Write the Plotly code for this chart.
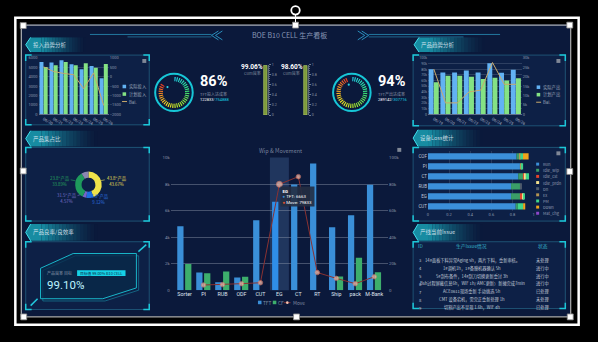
import math
import plotly.graph_objects as go

W, H = 598, 342


def X(p):
    return p / W


def Y(p):
    return 1 - p / H


CJK = "Noto Sans CJK SC, Noto Sans, sans-serif"
NUM = "Roboto, Noto Sans, sans-serif"

# ---------------- data ----------------
board_title = "BOE B10 CELL 生产看板"
tab_titles = ["投入趋势分析", "产品集占比", "产品良率/良效率",
              "产品趋势分析", "设备Loss统计", "产线当前Issue"]

in_dates = ["06/20", "06/21", "06/22", "06/23", "06/24", "06/25", "06/26"]
in_actual = [5580, 5510, 5760, 5340, 4810, 5160, 3840]
in_plan = [5050, 5230, 5580, 5230, 5440, 4950, 5370]
in_bal = [530, 280, 180, 110, -630, 210, -1530]
in_legend = ["实际投入", "计划投入", "Bal."]

out_dates = ["06/19", "06/20", "06/21", "06/22", "06/23", "06/24", "06/25", "06/26"]
out_actual = [80200, 74400, 74400, 77900, 74400, 90700, 73800, 79100]
out_plan = [57000, 68600, 68600, 66900, 62800, 65100, 59900, 64000]
out_bal = [24100, 6100, 6100, 11900, 12900, 27600, 16000, 16000]
out_legend = ["实际产出", "计划产出", "Bal."]

procs = ["Sorter", "PI", "RUB", "ODF", "CUT", "EG", "CT", "RT", "Ship", "pack", "M-Bank"]
wip_tft = [4820, 1330, 590, 960, 5280, 6663, 7970, 9550, 4740, 5650, 7950]
wip_cf = [1970, 1280, 1410, 1010, 0, 0, 0, 0, 1040, 2440, 1360]
move = [None, 3900, 4200, 4900, 5600, 79833, 85600, 13300, 8900, 4900, 10100]
focus_proc = "EG"
main_title = "Wip & Movement"

mix_names = ['43.8"产品', '15.6"产品', '31.5"产品', '23.8"产品', "其他"]
mix_pcts = [43.67, 9.12, 4.57, 33.89, 8.75]

gauge_names = ["TFT投入达成率", "TFT产出达成率"]
gauge_pcts = [86, 94]
gauge_done = ["122833", "289142"]
gauge_plan = ["/754888", "/307716"]

yield_names = ["Cum良率", "Cum良率"]
yield_pcts = [99.06, 98.60]

kpi_name = "产品良率 目标"
kpi_target = "目标值 99.00% B10 CELL"
kpi_value = 99.10

loss_eqp = ["COF", "PI", "CT", "RUB", "EG", "CUT"]
loss_states = ["Run", "Idle_wip", "Idle_cst", "Idle_prdn", "Dn", "Ex", "PM", "Down", "Mat_chg"]
loss_run = [0.838, 0.870, 0.854, 0.786, 0.786, 0.830]
loss_idle_wip = [0.030, 0.000, 0.050, 0.087, 0.087, 0.020]
loss_idle_cst = [0.000, 0.000, 0.010, 0.000, 0.016, 0.000]
loss_idle_prdn = [0.000, 0.000, 0.012, 0.000, 0.018, 0.000]
loss_dn = [0.000, 0.000, 0.000, 0.012, 0.000, 0.000]
loss_ex = [0.006, 0.015, 0.000, 0.000, 0.000, 0.000]
loss_pm = [0.025, 0.015, 0.030, 0.000, 0.010, 0.050]
loss_down = [0.053, 0.000, 0.000, 0.000, 0.000, 0.020]
loss_mat = [0.000, 0.000, 0.000, 0.000, 0.000, 0.000]

issue_cols = ["ID", "生产Issue情况", "状态"]
issue_ids = [3, 4, 5, 6, 7, 8, 9]
issue_text = [
    "14#面板下料异常Aging 5h，两片下料，重新审核。",
    "1#调机1h，1#备膜机器确认 5h",
    "5#刮布备件，14#刮刀切换更新重讨 3h",
    "Bsh过程屏蔽信息6h，WIF 1h/ AMC更新）新摊完成7min",
    "ACE0611现场重新 手动挑选 5h",
    "CMT 设备宕机，需完正重新处理 1h",
    "切割产出不呈现 1.6h，WIF 4h",
]
issue_state = ["未处理", "进行中", "进行中", "进行中", "已处理", "未处理", "已处理"]

# ---------------- styling ----------------
C_BLUE_L = "#62b2f3"
C_GREEN_L = "#84e284"
C_TAN = "#c9a96c"
C_TFT = "#3a8fd8"
C_CF = "#3dae6c"
C_MOVE = "#8a3232"
mix_colors = ["#f0e34a", "#1f6ee0", "#7566c8", "#1e9a5c", "#8a86b0"]
mix_text_colors = ["#e6df55", "#2f74e0", "#7a72cc", "#27a35e"]
loss_colors = ["#3b8fd9", "#3a9e68", "#e5432b", "#f3e08c", "#4e5b6c",
               "#b39452", "#3fd68a", "#f0a41c", "#8c46c9"]
TICK = dict(size=4, color="#8c98ad", family=NUM)
GRID = "rgba(130,145,170,0.28)"

fig = go.Figure()
shapes = []
annos = []


def rect(x0, y0, x1, y1, fill="rgba(0,0,0,0)", line=None, lw=1.0, layer="below"):
    shapes.append(dict(type="rect", xref="paper", yref="paper",
                       x0=X(x0), x1=X(x1), y0=Y(y1), y1=Y(y0),
                       fillcolor=fill, layer=layer,
                       line=dict(color=line if line else "rgba(0,0,0,0)",
                                 width=lw if line else 0)))


def seg(x0, y0, x1, y1, color, lw=1.0, layer="below"):
    shapes.append(dict(type="line", xref="paper", yref="paper",
                       x0=X(x0), x1=X(x1), y0=Y(y0), y1=Y(y1), layer=layer,
                       line=dict(color=color, width=lw)))


def poly(pts, fill="rgba(0,0,0,0)", line=None, lw=1.0, layer="below", closed=True):
    d = "M " + " L ".join(f"{X(a):.5f},{Y(b):.5f}" for a, b in pts)
    if closed:
        d += " Z"
    shapes.append(dict(type="path", xref="paper", yref="paper", path=d,
                       fillcolor=fill, layer=layer,
                       line=dict(color=line if line else "rgba(0,0,0,0)",
                                 width=lw if line else 0)))


def ring(cx, cy, r, line=None, fill="rgba(0,0,0,0)", lw=1.0, layer="below"):
    shapes.append(dict(type="circle", xref="paper", yref="paper",
                       x0=X(cx - r), x1=X(cx + r), y0=Y(cy + r), y1=Y(cy - r),
                       fillcolor=fill, layer=layer,
                       line=dict(color=line if line else "rgba(0,0,0,0)",
                                 width=lw if line else 0)))


def txt(x, y, s, size=5.0, color="#c8d0e0", xa="left", ya="middle", family=CJK, **kw):
    annos.append(dict(xref="paper", yref="paper", x=X(x), y=Y(y), text=s,
                      showarrow=False, xanchor=xa, yanchor=ya, borderpad=0,
                      font=dict(size=size, color=color, family=family), **kw))


def panel(x0, y0, x1, y1):
    rect(x0, y0, x1, y1, fill="rgba(17,38,80,0.55)", line="rgba(36,100,134,0.75)", lw=1)
    c = 6
    for px, py, sx, sy in [(x0, y0, 1, 1), (x1, y0, -1, 1), (x0, y1, 1, -1), (x1, y1, -1, -1)]:
        poly([(px + sx * c, py), (px, py), (px, py + sy * c)],
             line="#1cc6d8", lw=1.5, closed=False)


def tab(x0, y0, x1, y1, label):
    ym = (y0 + y1) / 2
    poly([(x0, ym), (x0 + 5, y0), (x0 + 16, y0), (x0 + 16, y1), (x0 + 5, y1)],
         fill="rgba(24,146,168,0.95)")
    n = 16
    step = (x1 - (x0 + 16)) / n
    for i in range(n):
        a = 0.95 * (1 - (i + 0.5) / n) ** 1.4
        rect(x0 + 16 + i * step, y0, x0 + 16 + (i + 1) * step, y1,
             fill=f"rgba(24,146,168,{a:.3f})")
    poly([(x0 + 5, y0), (x0, ym), (x0 + 5, y1)], line="#3fe0ee", lw=1, closed=False)
    txt(x0 + 6, ym, label, size=5.5, color="rgba(228,238,248,0.85)")


def tool_icon(x, y):
    rect(x, y, x + 4, y + 4, fill="#7f8796")


def legend_box(x, y, color, label, size=4.3):
    rect(x, y - 1.8, x + 3.6, y + 1.8, fill=color)
    txt(x + 5.5, y, label, size=size, color="#9ba6b9")


def legend_line(x, y, color, label, size=4.3):
    seg(x - 0.5, y, x + 4.5, y, color, lw=1)
    txt(x + 5.5, y, label, size=size, color="#9ba6b9")


def grad(t):
    stops = [(0.0, (34, 206, 226)), (0.26, (52, 222, 120)), (0.5, (168, 228, 44)),
             (0.68, (240, 226, 36)), (0.85, (246, 150, 34)), (1.0, (232, 64, 36))]
    for (t0, c0), (t1, c1) in zip(stops, stops[1:]):
        if t <= t1:
            f = (t - t0) / (t1 - t0)
            return "rgb(%d,%d,%d)" % tuple(round(a + (b - a) * f) for a, b in zip(c0, c1))
    return "rgb(%d,%d,%d)" % stops[-1][1]


# ---------------- board background & header ----------------
rect(20, 22, 576, 319, fill="#0b193b")
txt(292, 33, board_title, size=7, color="rgba(190,202,226,0.72)", xa="center")
seg(90, 32, 213, 32, "#23789f", 1)
seg(128, 34.5, 213, 34.5, "#23789f", 0.8)
poly([(220, 28.5), (213, 33), (220, 37.5)], line="#2a8fbd", lw=1, closed=False)
poly([(224, 28.5), (217, 33), (224, 37.5)], line="#2a8fbd", lw=1, closed=False)
seg(372, 32, 505, 32, "#23789f", 1)
seg(372, 34.5, 468, 34.5, "#23789f", 0.8)
poly([(365, 28.5), (372, 33), (365, 37.5)], line="#2a8fbd", lw=1, closed=False)
poly([(361, 28.5), (368, 33), (361, 37.5)], line="#2a8fbd", lw=1, closed=False)

# side panels
panel(25, 53, 150, 124)
panel(25, 147, 150, 222)
panel(25, 243, 150, 312)
panel(417, 53, 571, 125)
panel(417, 147, 571, 222)
panel(417, 243, 571, 311)
tab(25, 35, 86, 50, tab_titles[0])
tab(25, 130, 98, 146, tab_titles[1])
tab(25, 225, 98, 242, tab_titles[2])
tab(418, 35, 490, 50, tab_titles[3])
tab(417, 129, 488, 146, tab_titles[4])
tab(417, 225, 488, 242, tab_titles[5])

# ---------------- input trend (left top) ----------------
fig.add_trace(go.Bar(x=in_dates, y=in_actual, width=0.4, offset=-0.41,
                     marker=dict(color=C_BLUE_L, line=dict(width=0)), xaxis="x", yaxis="y"))
fig.add_trace(go.Bar(x=in_dates, y=in_plan, width=0.4, offset=0.01,
                     marker=dict(color=C_GREEN_L, line=dict(width=0)), xaxis="x", yaxis="y"))
fig.add_trace(go.Scatter(x=in_dates, y=in_bal, mode="lines", line=dict(color=C_TAN, width=1),
                         xaxis="x", yaxis="y2"))
legend_box(123, 85, C_BLUE_L, in_legend[0])
legend_box(123, 92.7, C_GREEN_L, in_legend[1])
legend_line(123, 100.3, C_TAN, in_legend[2])
tool_icon(143, 57)

# ---------------- output trend (right top) ----------------
fig.add_trace(go.Bar(x=out_dates, y=out_actual, width=0.42, offset=-0.44,
                     marker=dict(color=C_BLUE_L, line=dict(width=0)), xaxis="x2", yaxis="y3"))
fig.add_trace(go.Bar(x=out_dates, y=out_plan, width=0.42, offset=0.0,
                     marker=dict(color=C_GREEN_L, line=dict(width=0)), xaxis="x2", yaxis="y3"))
fig.add_trace(go.Scatter(x=out_dates, y=out_bal, mode="lines", line=dict(color=C_TAN, width=1),
                         xaxis="x2", yaxis="y4"))
legend_box(542, 85.7, C_BLUE_L, out_legend[0])
legend_box(542, 93.3, C_GREEN_L, out_legend[1])
legend_line(542, 101, C_TAN, out_legend[2])
tool_icon(562, 57)

# ---------------- product mix donut ----------------
fig.add_trace(go.Pie(values=mix_pcts, labels=mix_names, hole=0.52, sort=False,
                     direction="clockwise", rotation=0, textinfo="none",
                     marker=dict(colors=mix_colors, line=dict(width=0)),
                     domain=dict(x=[X(75), X(102)], y=[Y(198.5), Y(171.5)]),
                     showlegend=False, hoverinfo="skip"))
txt(106, 181.5, f"{mix_names[0]}<br>{mix_pcts[0]:.2f}%", size=4.3, color=mix_text_colors[0])
seg(100.5, 181, 105, 180, mix_text_colors[0], 0.6)
txt(88, 199.5, f"{mix_names[1]}<br>{mix_pcts[1]:.2f}%", size=4.3, color=mix_text_colors[1])
txt(77, 198, f"{mix_names[2]}<br>{mix_pcts[2]:.2f}%", size=4.3, color=mix_text_colors[2], xa="right")
seg(80.5, 195, 77.5, 196, mix_text_colors[2], 0.6)
txt(70, 181, f"{mix_names[3]}<br>{mix_pcts[3]:.2f}%", size=4.3, color=mix_text_colors[3], xa="right")
seg(75.5, 181, 70.5, 180, mix_text_colors[3], 0.6)

# ---------------- yield KPI card ----------------
poly([(42.3, 272.3), (75.3, 257.3), (139.3, 257.3), (139.3, 292.3), (105.3, 303.3), (42.3, 303.3)],
     line="rgba(28,180,200,0.45)", lw=1)
poly([(40, 270), (73, 255), (137, 255), (137, 290), (103, 301), (40, 301)],
     fill="rgba(8,42,74,0.75)", line="#19b6c9", lw=1)
seg(139, 253, 147, 246, "#22c8dc", 1.5)
seg(30, 308, 37, 301, "#22c8dc", 1.5)
txt(46, 274.5, kpi_name, size=4, color="#8a96aa")
rect(77, 272, 126, 278, fill="#16d2e6")
txt(101.5, 275, kpi_target, size=3.8, color="#0b2a4a", xa="center")
txt(46, 287, f"{kpi_value:.2f}%", size=11.5, color="#bdf3ff", family=NUM)
ring(83, 288, 0.8, fill="#d0f4ff")

# ---------------- achievement gauges ----------------
N_SEG = 40
gauge_cx = [175, 355]
gauge_cy = 91
for k, pct in enumerate(gauge_pcts):
    n_on = round(pct / 100 * N_SEG)
    thetas = [(j + 0.5) * 360 / N_SEG for j in range(n_on)]
    cols = [grad(j / max(n_on - 1, 1)) for j in range(n_on)]
    fig.add_trace(go.Barpolar(r=[1] * n_on, theta=thetas, width=[360 / N_SEG * 0.55] * n_on,
                              marker=dict(color=cols, line=dict(width=0)),
                              subplot="polar" if k == 0 else "polar2", hoverinfo="skip"))
    cx = gauge_cx[k]
    ring(cx, gauge_cy, 19, line="#17c6d6", lw=2)
    ang = math.radians(pct / 100 * 360)
    ring(cx + 8.5 * math.sin(ang), gauge_cy - 8.5 * math.cos(ang), 1.1, fill="#27d3e3")
    txt(cx + 25, 79.8, f"<b>{pct}%</b>", size=14.5, color="#ffffff", family=NUM)
    txt(cx + 25, 92.3, gauge_names[k], size=4, color="#8a94a8")
    txt(cx + 25, 98.3, f"<span style='color:#ffffff'>{gauge_done[k]}</span>"
                       f"<span style='color:#18d0e0'>{gauge_plan[k]}</span>",
        size=4, family=NUM)

# ---------------- yield bars ----------------
yield_cx = [254, 294]
for k, val in enumerate(yield_pcts):
    fig.add_trace(go.Bar(x=[0], y=[val / 100], width=[0.7],
                         marker=dict(color="#7d9a3c", line=dict(color="#b4cc64", width=0.6)),
                         xaxis="x5" if k == 0 else "x6", yaxis="y8" if k == 0 else "y9"))
    txt(yield_cx[k], 65, f"<b>{val:.2f}%</b>", size=6.5, color="#ffffff", xa="center", family=NUM)
    txt(yield_cx[k], 71, yield_names[k], size=4, color="#7f899c", xa="center")

# ---------------- Wip & Movement ----------------
fi = procs.index(focus_proc)
shapes.append(dict(type="rect", xref="x3", yref="paper", x0=fi - 0.5, x1=fi + 0.5,
                   y0=Y(292.3), y1=Y(157.3), fillcolor="rgba(90,130,185,0.28)",
                   line=dict(width=0), layer="below"))
tft_cols = ["#2f8ee8" if p == focus_proc else C_TFT for p in procs]
fig.add_trace(go.Bar(x=procs, y=wip_tft, width=0.33, offset=-0.385,
                     marker=dict(color=tft_cols, line=dict(width=0)), xaxis="x3", yaxis="y5"))
fig.add_trace(go.Bar(x=procs, y=wip_cf, width=0.33, offset=0.03,
                     marker=dict(color=C_CF, line=dict(width=0)), xaxis="x3", yaxis="y5"))
fig.add_trace(go.Scatter(x=procs, y=move, mode="lines+markers",
                         line=dict(color=C_MOVE, width=1),
                         marker=dict(size=[6 if p == focus_proc else 4.5 for p in procs],
                                     color="#f7c4b2", line=dict(color="#e8806a", width=0.8)),
                         xaxis="x3", yaxis="y6"))
txt(283, 151, main_title, size=5.5, color="rgba(170,180,200,0.7)", xa="center")
tool_icon(401, 147.5)
tip = (f"<b>{focus_proc}</b><br><span style='color:#3b8fd9'>●</span> TFT: {wip_tft[fi]}"
       f"<br><span style='color:#e8562e'>●</span> Move: {move[fi]}")
annos.append(dict(xref="paper", yref="paper", x=X(282), y=Y(186.5), text=tip,
                  showarrow=False, xanchor="left", yanchor="top", align="left",
                  bgcolor="rgba(36,46,66,0.9)", borderpad=1.5,
                  font=dict(size=4.4, color="#ffffff", family=NUM)))
rect(260, 303, 263.6, 306.6, fill=C_TFT)
txt(264.5, 305, "TFT", size=4.8, color="#7f8aa0")
rect(275, 303, 278.6, 306.6, fill=C_CF)
txt(279.5, 305, "CF", size=4.8, color="#7f8aa0")
seg(286.5, 305, 293, 305, C_MOVE, 1)
ring(289.7, 305, 1.3, fill="#f7c4b2")
txt(294, 305, "Move", size=4.8, color="#7f8aa0")

# ---------------- equipment loss (stacked) ----------------
loss_series = [loss_run, loss_idle_wip, loss_idle_cst, loss_idle_prdn, loss_dn,
               loss_ex, loss_pm, loss_down, loss_mat]
base = [0.0] * len(loss_eqp)
for name, vals, col in zip(loss_states, loss_series, loss_colors):
    fig.add_trace(go.Bar(y=loss_eqp, x=vals, base=list(base), orientation="h", width=0.62,
                         marker=dict(color=col, line=dict(width=0)), name=name,
                         xaxis="x4", yaxis="y7"))
    base = [b + v for b, v in zip(base, vals)]
for i, (name, col) in enumerate(zip(loss_states, loss_colors)):
    ly = 164 + i * 6.25
    rect(541.5, ly - 1.5, 544.5, ly + 1.5, fill=col)
    txt(547.5, ly, name, size=4, color="#8f9ab0")
tool_icon(562, 151)

# ---------------- issue table ----------------
txt(424, 247, issue_cols[0], size=4.8, color="#36b6cc", xa="center")
txt(476, 247, issue_cols[1], size=4.8, color="#36b6cc", xa="center")
txt(548, 247, issue_cols[2], size=4.8, color="#36b6cc", xa="center")
for i, (iid, t, s) in enumerate(zip(issue_ids, issue_text, issue_state)):
    ry = 262 + i * 8
    txt(424, ry, str(iid), size=4.2, color="#c2cad8", xa="center")
    txt(477, ry, t, size=4.2, color="#c2cad8", xa="center")
    txt(548, ry, s, size=4.2, color="#c2cad8", xa="center")

# ---------------- editor selection frame ----------------
rect(14.5, 15, 584.5, 327.5, line="#ffffff", lw=2.5, layer="above")
rect(20.5, 22.5, 576.5, 319.5, line="#d4d4d4", lw=1, layer="above")
for hx, hy in [(22.5, 23), (298, 22.5), (575.5, 22.5), (22.5, 171), (575.5, 171.5),
               (23, 319.5), (299, 319.5), (576, 319.5)]:
    rect(hx - 3, hy - 3, hx + 3, hy + 3, fill="#ffffff", line="#8a8a8a", lw=0.8, layer="above")
ring(298, 7.5, 4.3, line="#ffffff", lw=1.8, layer="above")
seg(298, 12, 298, 19.5, "#ffffff", 1, layer="above")


def polar_dom(cx, cy, r):
    return dict(domain=dict(x=[X(cx - r), X(cx + r)], y=[Y(cy + r), Y(cy - r)]),
                hole=0.7, bgcolor="rgba(0,0,0,0)",
                radialaxis=dict(visible=False, range=[0, 1]),
                angularaxis=dict(visible=False, rotation=90, direction="clockwise"))


def gauge_axis(dom_x):
    return dict(domain=dom_x, range=[-0.5, 0.5], visible=False, fixedrange=True)


def gauge_yaxis(anchor):
    return dict(domain=[Y(114), Y(63)], anchor=anchor, side="right", range=[0, 1],
                dtick=0.2, showgrid=False, zeroline=False, ticks="outside", ticklen=2.5,
                tickcolor="#6f7a8c", tickwidth=0.6, tickfont=dict(size=3.6, color="#8a94a6", family=NUM),
                showline=True, linecolor="#5f6a7c", linewidth=0.5,
                minor=dict(dtick=0.04, ticks="outside", ticklen=1.2, tickcolor="#5f6a7c", tickwidth=0.5))


fig.update_layout(
    width=W, height=H, margin=dict(l=0, r=0, t=0, b=0),
    paper_bgcolor="#000000", plot_bgcolor="rgba(0,0,0,0)",
    showlegend=False, barmode="overlay", hovermode=False,
    font=dict(family=CJK, color="#c8d0e0"),
    xaxis=dict(domain=[X(38), X(109)], anchor="y", type="category", showgrid=False,
               showline=True, linecolor="rgba(150,160,180,0.6)", linewidth=0.8, ticks="",
               tickfont=dict(size=4, color="#a9b3c6", family=NUM)),
    yaxis=dict(domain=[Y(113.3), Y(56)], anchor="x", range=[0, 6000], dtick=1000,
               gridcolor=GRID, gridwidth=0.6, zeroline=False, tickfont=TICK),
    yaxis2=dict(overlaying="y", anchor="x", side="right", range=[-2000, 1000], dtick=500,
                showgrid=False, zeroline=False, tickfont=TICK),
    xaxis2=dict(domain=[X(432), X(527)], anchor="y3", type="category", showgrid=False,
                showline=True, linecolor="rgba(150,160,180,0.6)", linewidth=0.8, ticks="",
                tickfont=dict(size=4, color="#a9b3c6", family=NUM)),
    yaxis3=dict(domain=[Y(113.3), Y(56)], anchor="x2", range=[0, 100000], dtick=10000,
                gridcolor=GRID, gridwidth=0.6, zeroline=False, tickfont=dict(size=3.5, color="#8c98ad", family=NUM)),
    yaxis4=dict(overlaying="y3", anchor="x2", side="right", range=[0, 30000], dtick=5000,
                showgrid=False, zeroline=False, tickfont=TICK),
    xaxis3=dict(domain=[X(171.7), X(391.7)], anchor="y5", type="category", showgrid=False,
                showline=False, ticks="", tickfont=dict(size=5.3, color="#dfe5ee", family=NUM)),
    yaxis5=dict(domain=[Y(292.3), Y(157.3)], anchor="x3", range=[0, 10000], dtick=2000,
                gridcolor="rgba(140,150,170,0.45)", gridwidth=0.8, zeroline=False,
                tickfont=dict(size=4.4, color="#8892a6", family=NUM)),
    yaxis6=dict(overlaying="y5", anchor="x3", side="right", range=[0, 100000], dtick=20000,
                showgrid=False, zeroline=False, tickfont=dict(size=4.4, color="#8892a6", family=NUM)),
    xaxis4=dict(domain=[X(432), X(539)], anchor="y7", range=[0, 1], dtick=0.2,
                gridcolor="rgba(130,145,170,0.22)", gridwidth=0.6, zeroline=False,
                tickfont=dict(size=4, color="#8c98ad", family=NUM)),
    yaxis7=dict(domain=[Y(212), Y(151)], anchor="x4", type="category",
                categoryorder="array", categoryarray=loss_eqp, autorange="reversed",
                showgrid=False, ticks="", tickfont=dict(size=4.5, color="#c0c8d8", family=NUM)),
    xaxis5=gauge_axis([X(265), X(270)]),
    yaxis8=gauge_yaxis("x5"),
    xaxis6=gauge_axis([X(305.5), X(310.5)]),
    yaxis9=gauge_yaxis("x6"),
    polar=polar_dom(gauge_cx[0], gauge_cy, 16),
    polar2=polar_dom(gauge_cx[1], gauge_cy, 16),
    shapes=shapes,
    annotations=annos,
)

fig.write_html("out.html", config={"displayModeBar": False})
